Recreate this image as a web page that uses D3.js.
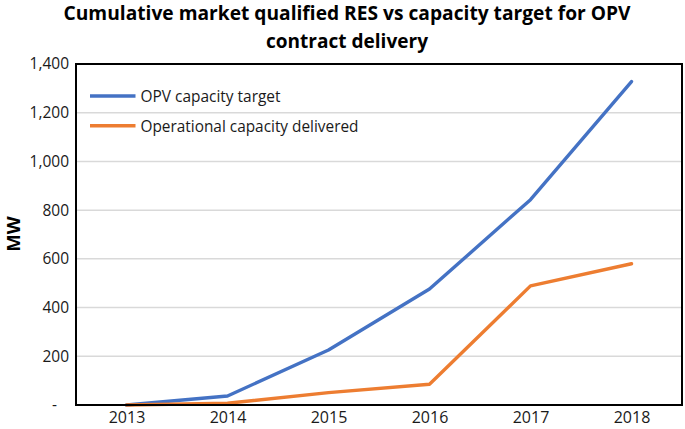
<!DOCTYPE html>
<html><head><meta charset="utf-8">
<script src="https://cdn.jsdelivr.net/npm/d3@7"></script>
<style>body{margin:0;background:#fff}svg{display:block}</style>
</head><body>
<svg id="c" width="685" height="429"></svg>
<script>
const years = ["2013","2014","2015","2016","2017","2018"];
const opvTarget = [0, 37, 226, 476, 843, 1328];
const delivered = [0, 7, 51, 85, 489, 580];
const yTicks = [0, 200, 400, 600, 800, 1000, 1200, 1400];
const seriesNames = ["OPV capacity target", "Operational capacity delivered"];
const seriesColors = ["#4472C4", "#ED7D31"];
const titleLines = ["Cumulative market qualified RES vs capacity target for OPV", "contract delivery"];

const svg = d3.select("#c");
const font = "'Open Sans', sans-serif";
const L = 76, R = 682, T = 64, B = 405;

const x = d3.scalePoint().domain(years).range([L, R]).padding(0.5);
const y = d3.scaleLinear().domain([0, 1400]).range([B, T]);

// gridlines
svg.append("g").selectAll("line").data(yTicks.filter(d => d > 0)).join("line")
  .attr("x1", L).attr("x2", R).attr("y1", d => y(d)).attr("y2", d => y(d))
  .attr("stroke", "#d9d9d9").attr("stroke-width", 1.5);

// y axis labels
const fmt = d3.format(",");
const yAxis = d3.axisLeft(y).tickValues(yTicks).tickSize(0).tickPadding(7)
  .tickFormat(d => d === 0 ? "-" : fmt(d));
const ga = svg.append("g").attr("transform", `translate(${L},0)`).call(yAxis);
ga.select(".domain").remove();
ga.selectAll("text").attr("font-family", font).attr("font-size", 15.5).attr("fill", "#1a1a1a")
  .attr("dx", d => d === 0 ? -12 : 0);

// x axis labels
const xAxis = d3.axisBottom(x).tickSize(0).tickPadding(7);
const gx = svg.append("g").attr("transform", `translate(0,${B})`).call(xAxis);
gx.select(".domain").remove();
gx.selectAll("text").attr("font-family", font).attr("font-size", 16).attr("fill", "#1a1a1a");

// lines
const line = d3.line().x((d, i) => x(years[i])).y(d => y(d));
[opvTarget, delivered].forEach((s, k) => {
  svg.append("path").datum(s).attr("d", line).attr("fill", "none")
    .attr("stroke", seriesColors[k]).attr("stroke-width", 3.4)
    .attr("stroke-linejoin", "round").attr("stroke-linecap", "round");
});

// frame
svg.append("rect").attr("x", L).attr("y", T).attr("width", R - L).attr("height", B - T)
  .attr("fill", "none").attr("stroke", "#000").attr("stroke-width", 2);

// legend
const legY = [96, 125.7];
const legW = [140, 218];
seriesNames.forEach((n, k) => {
  svg.append("line").attr("x1", 90).attr("x2", 135.5).attr("y1", legY[k]).attr("y2", legY[k])
    .attr("stroke", seriesColors[k]).attr("stroke-width", 3.5);
  svg.append("text").attr("x", 140.5).attr("y", legY[k] + 6).text(n)
    .attr("font-family", font).attr("font-size", 16.5).attr("fill", "#1a1a1a")
    .attr("textLength", legW[k]).attr("lengthAdjust", "spacingAndGlyphs");
});

// title
const tW = [567, 162];
const tY = [20, 47.5];
titleLines.forEach((t, i) => {
  svg.append("text").attr("x", 347).attr("y", tY[i]).attr("text-anchor", "middle").text(t)
    .attr("font-family", font).attr("font-weight", "bold").attr("font-size", 19.5)
    .attr("fill", "#000").attr("textLength", tW[i]).attr("lengthAdjust", "spacingAndGlyphs");
});

// y title
svg.append("text").attr("transform", "translate(20,234) rotate(-90)").attr("text-anchor", "middle")
  .text("MW").attr("font-family", font).attr("font-weight", "bold").attr("font-size", 18.5).attr("fill", "#000");
</script>
</body></html>
